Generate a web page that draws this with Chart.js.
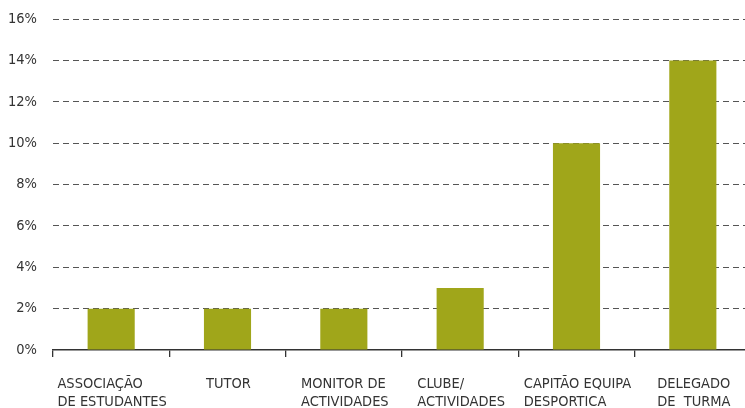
<!DOCTYPE html>
<html>
<head>
<meta charset="utf-8">
<script src="https://cdn.jsdelivr.net/npm/chart.js@4"></script>
<style>
  html, body { margin: 0; padding: 0; background: #fff; overflow: hidden; }
  #wrap { width: 745px; height: 408px; overflow: hidden; }
</style>
</head>
<body>
<div id="wrap"><canvas id="chart" width="760" height="408"></canvas></div>
<script>
// categories (each one split in lines) and values in percent
const categories = [
  ['ASSOCIAÇÃO', 'DE ESTUDANTES'],
  ['TUTOR'],
  ['MONITOR DE', 'ACTIVIDADES'],
  ['CLUBE/', 'ACTIVIDADES'],
  ['CAPITÃO EQUIPA', 'DESPORTICA'],
  ['DELEGADO', 'DE  TURMA']
];
const values = [2, 2, 2, 3, 10, 14];
const yMax = 16;
const yStep = 2;

const FONT = '"DejaVu Sans Condensed", "DejaVu Sans", sans-serif';

// x labels: each block centred under its category, lines left aligned
const blockLabels = {
  id: 'blockLabels',
  afterDraw(chart) {
    const ctx = chart.ctx;
    const xs = chart.scales.x;
    ctx.save();
    ctx.font = '14.5px ' + FONT;
    ctx.fillStyle = '#333';
    ctx.textAlign = 'left';
    ctx.textBaseline = 'alphabetic';
    categories.forEach((lines, i) => {
      const cx = xs.getPixelForValue(i);
      const w = Math.max(...lines.map(l => ctx.measureText(l).width));
      lines.forEach((l, k) => {
        ctx.fillText(l, cx - w / 2 + 1, 388 + k * 18);
      });
    });
    ctx.restore();
  }
};

new Chart(document.getElementById('chart'), {
  type: 'bar',
  data: {
    labels: categories.map(c => c.join(' ')),
    datasets: [{
      data: values,
      backgroundColor: '#a0a61a',
      barPercentage: 0.405,
      categoryPercentage: 1
    }]
  },
  options: {
    responsive: false,
    animation: false,
    devicePixelRatio: 1,
    layout: { padding: { top: 19, left: 0, right: 9, bottom: 0 } },
    plugins: { legend: { display: false }, tooltip: { enabled: false } },
    scales: {
      x: {
        offset: true,
        grid: {
          offset: true,
          drawOnChartArea: false,
          drawTicks: true,
          tickLength: 7,
          color: '#333',
          lineWidth: 1.3
        },
        border: { display: true, color: '#333', width: 1.5 },
        ticks: { display: false },
        afterFit(scale) { scale.height = 58; }
      },
      y: {
        min: 0,
        max: yMax,
        grid: {
          drawTicks: false,
          color: ctx => ctx.tick && ctx.tick.value === 0 ? 'rgba(0,0,0,0)' : '#555',
          lineWidth: 1
        },
        border: { display: false, dash: [6, 4] },
        ticks: {
          stepSize: yStep,
          autoSkip: false,
          padding: 16,
          color: '#333',
          font: { family: FONT, size: 14.5 },
          callback: v => v + '%'
        },
        afterFit(scale) {
          scale.width = 53;
          scale.paddingTop = 0;
          scale.paddingBottom = 0;
        }
      }
    }
  },
  plugins: [blockLabels]
});
</script>
</body>
</html>
